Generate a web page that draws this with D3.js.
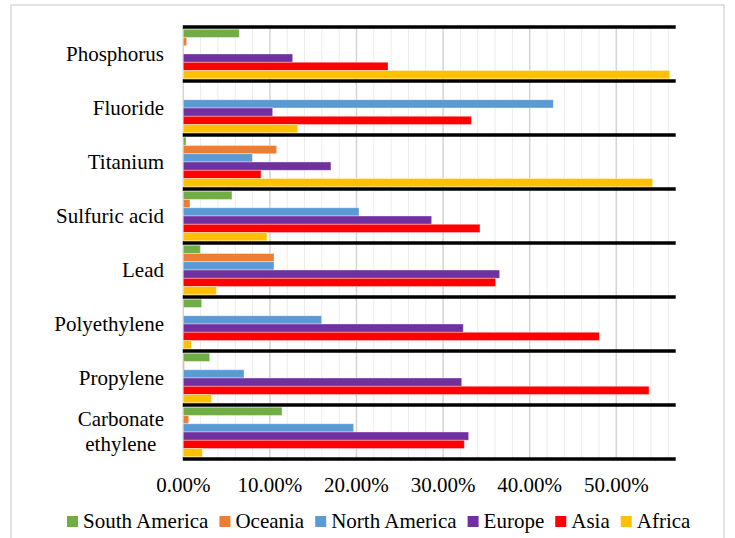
<!DOCTYPE html>
<html>
<head>
<meta charset="utf-8">
<script src="https://cdn.jsdelivr.net/npm/d3@7"></script>
<style>
  html, body { margin: 0; padding: 0; background: #fff; }
  svg { display: block; font-family: "Liberation Serif", serif; }
  svg text { font-family: "Liberation Serif", serif; fill: #000; }
</style>
</head>
<body>
<svg id="chart" width="735" height="538" font-family="Liberation Serif, serif"></svg>
<script>
// ---- data ----
const categories = ["Phosphorus", "Fluoride", "Titanium", "Sulfuric acid", "Lead", "Polyethylene", "Propylene", "Carbonate ethylene"];
const seriesNames = ["South America", "Oceania", "North America", "Europe", "Asia", "Africa"];
const seriesColors = ["#70ad47", "#ed7d31", "#5b9bd5", "#7030a0", "#ff0000", "#ffc000"];
// values per category (fractions), order follows seriesNames
const southAmerica = [0.0647, 0.0000, 0.0031, 0.0562, 0.0196, 0.0212, 0.0305, 0.1140];
const oceania      = [0.0039, 0.0000, 0.1078, 0.0077, 0.1047, 0.0000, 0.0012, 0.0062];
const northAmerica = [0.0000, 0.4273, 0.0797, 0.2029, 0.1047, 0.1598, 0.0701, 0.1967];
const europe       = [0.1263, 0.1032, 0.1705, 0.2868, 0.3653, 0.3233, 0.3215, 0.3295];
const asia         = [0.2364, 0.3326, 0.0897, 0.3426, 0.3607, 0.4804, 0.5378, 0.3245];
const africa       = [0.5617, 0.1321, 0.5420, 0.0966, 0.0381, 0.0092, 0.0323, 0.0220];
const seriesValues = [southAmerica, oceania, northAmerica, europe, asia, africa];
const tickValues = [0, 0.1, 0.2, 0.3, 0.4, 0.5];
const tickLabels = ["0.00%", "10.00%", "20.00%", "30.00%", "40.00%", "50.00%"];
const xMax = 0.5686;

// ---- layout ----
const FONT = "Liberation Serif, serif";
const svg = d3.select("#chart");
const plot = { left: 183.3, right: 675.7, top: 27, bottom: 459 };

svg.append("rect")
  .attr("x", 11).attr("y", 5).attr("width", 713).attr("height", 560)
  .attr("fill", "#fff").attr("stroke", "#d9d9d9").attr("stroke-width", 1.5);

const x = d3.scaleLinear().domain([0, xMax]).range([plot.left, plot.right]);
const y = d3.scaleBand().domain(categories).range([plot.top, plot.bottom]).padding(0);
const inner = d3.scaleBand().domain(seriesNames).range([0, y.bandwidth()]).paddingInner(0).paddingOuter(0.27);

// minor gridlines (every 2%)
const minor = d3.range(0.02, xMax, 0.02).filter(v => Math.abs(v * 10 - Math.round(v * 10)) > 1e-6);
svg.append("g").selectAll("line").data(minor).join("line")
  .attr("x1", d => x(d)).attr("x2", d => x(d))
  .attr("y1", plot.top).attr("y2", plot.bottom)
  .attr("stroke", "#ececec").attr("stroke-width", 1);

// major gridlines
svg.append("g").selectAll("line").data(tickValues).join("line")
  .attr("x1", d => x(d)).attr("x2", d => x(d))
  .attr("y1", plot.top).attr("y2", plot.bottom)
  .attr("stroke", "#d4d4d4").attr("stroke-width", 1.5);

// bars
const rows = [];
categories.forEach((c, ci) => {
  seriesNames.forEach((s, si) => {
    rows.push({ cat: c, series: s, value: seriesValues[si][ci], color: seriesColors[si] });
  });
});
svg.append("g").selectAll("rect").data(rows.filter(d => d.value > 0)).join("rect")
  .attr("x", x(0))
  .attr("y", d => y(d.cat) + inner(d.series))
  .attr("width", d => x(d.value) - x(0))
  .attr("height", inner.bandwidth())
  .attr("fill", d => d.color)
  .attr("stroke", "#ffffff").attr("stroke-opacity", 0.45).attr("stroke-width", 0.8);

// black category separators
const seps = categories.map(c => y(c)).concat([plot.bottom]);
svg.append("g").selectAll("line").data(seps).join("line")
  .attr("x1", plot.left - 0.5).attr("x2", plot.right)
  .attr("y1", d => d).attr("y2", d => d)
  .attr("stroke", "#000").attr("stroke-width", 3.4);

// category labels
const catG = svg.append("g").attr("font-size", 21).attr("font-family", FONT);
categories.forEach(c => {
  const cy = y(c) + y.bandwidth() / 2;
  const words = c === "Carbonate ethylene" ? ["Carbonate", "ethylene"] : [c];
  if (words.length === 1) {
    catG.append("text").attr("x", 164).attr("y", cy).attr("dy", "0.33em")
      .attr("text-anchor", "end").text(c);
  } else {
    const tmp = words.map((w, i) => catG.append("text")
      .attr("y", cy + (i - (words.length - 1) / 2) * 25).attr("dy", "0.33em").text(w));
    const maxW = d3.max(tmp, t => t.node().getComputedTextLength());
    tmp.forEach(t => t.attr("x", 164 - maxW / 2).attr("text-anchor", "middle"));
  }
});

// x tick labels
svg.append("g").attr("font-size", 21).attr("font-family", FONT)
  .selectAll("text").data(tickValues).join("text")
  .attr("x", d => x(d)).attr("y", 492)
  .attr("text-anchor", "middle")
  .text((d, i) => tickLabels[i]);

// legend
const leg = svg.append("g").attr("font-size", 21).attr("font-family", FONT);
let lx = 67;
seriesNames.forEach((s, i) => {
  leg.append("rect").attr("x", lx).attr("y", 516).attr("width", 11).attr("height", 11).attr("fill", seriesColors[i]);
  const t = leg.append("text").attr("x", lx + 16).attr("y", 527.5).text(s);
  lx += 16 + t.node().getComputedTextLength() + 11;
});
</script>
</body>
</html>
